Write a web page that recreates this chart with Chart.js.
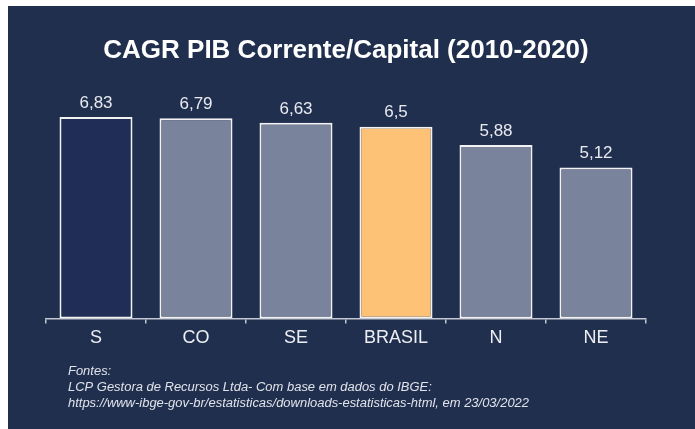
<!DOCTYPE html>
<html>
<head>
<meta charset="utf-8">
<script src="https://cdn.jsdelivr.net/npm/chart.js@4"></script>
<style>
  html, body { margin: 0; padding: 0; background: #ffffff; }
  .frame {
    position: absolute;
    left: 8px;
    top: 6px;
    width: 687px;
    height: 423px;
    background: #212f4f;
  }
</style>
</head>
<body>
<div class="frame">
  <canvas id="chart" width="687" height="423"></canvas>
</div>
<script>
const categories = ["S", "CO", "SE", "BRASIL", "N", "NE"];
const cagrValues = [6.83, 6.79, 6.63, 6.5, 5.88, 5.12];
const barColors = ["#1f2d57", "#7a839c", "#7a839c", "#fdc276", "#7a839c", "#7a839c"];
const titleText = "CAGR PIB Corrente/Capital (2010-2020)";
const sourceLines = [
  "Fontes:",
  "LCP Gestora de Recursos Ltda- Com base em dados do IBGE:",
  "https://www-ibge-gov-br/estatisticas/downloads-estatisticas-html, em 23/03/2022",
];

// rótulos de valor acima das barras
const valueLabels = {
  id: "valueLabels",
  afterDatasetsDraw(chart) {
    const ctx = chart.ctx;
    const meta = chart.getDatasetMeta(0);
    ctx.save();
    ctx.fillStyle = "#e8eaf0";
    ctx.font = "17px 'Liberation Sans', Arial, sans-serif";
    ctx.textAlign = "center";
    ctx.textBaseline = "middle";
    meta.data.forEach((bar, i) => {
      const txt = String(cagrValues[i]).replace(".", ",");
      ctx.fillText(txt, bar.x, bar.y - 14);
    });
    ctx.restore();
  },
};

// fontes no rodapé (a fonte original é mais larga, por isso o scale)
const footnote = {
  id: "footnote",
  afterDraw(chart) {
    const ctx = chart.ctx;
    ctx.save();
    ctx.fillStyle = "#e0e3ea";
    ctx.font = "italic 12px 'Liberation Sans', Arial, sans-serif";
    ctx.textAlign = "left";
    ctx.textBaseline = "middle";
    ctx.translate(60, 0);
    ctx.scale(1.08, 1);
    sourceLines.forEach((line, i) => {
      ctx.fillText(line, 0, 366 + i * 16);
    });
    ctx.restore();
  },
};

const ctx = document.getElementById("chart").getContext("2d");
new Chart(ctx, {
  type: "bar",
  data: {
    labels: categories,
    datasets: [
      {
        data: cagrValues,
        backgroundColor: barColors,
        borderColor: "#f2f2f2",
        borderWidth: 2,
        borderSkipped: false,
        categoryPercentage: 1,
        barPercentage: 0.73,
      },
    ],
  },
  options: {
    responsive: false,
    animation: false,
    layout: {
      padding: { left: 38, right: 49, top: 29, bottom: 76 },
    },
    plugins: {
      legend: { display: false },
      tooltip: { enabled: false },
      title: {
        display: true,
        text: titleText,
        color: "#ffffff",
        font: { family: "'Liberation Sans', Arial, sans-serif", size: 26, weight: "bold" },
        padding: { top: 0, bottom: 31 },
      },
    },
    scales: {
      y: {
        display: false,
        min: 0,
        max: 7.5,
      },
      x: {
        border: { display: true, color: "#c4c8d2", width: 1.5 },
        grid: {
          display: true,
          drawOnChartArea: false,
          drawTicks: true,
          tickLength: 5,
          color: "#c4c8d2",
          lineWidth: 1.5,
        },
        ticks: {
          color: "#eceef3",
          padding: 4,
          font: { family: "'Liberation Sans', Arial, sans-serif", size: 18 },
        },
      },
    },
  },
  plugins: [valueLabels, footnote],
});
</script>
</body>
</html>
